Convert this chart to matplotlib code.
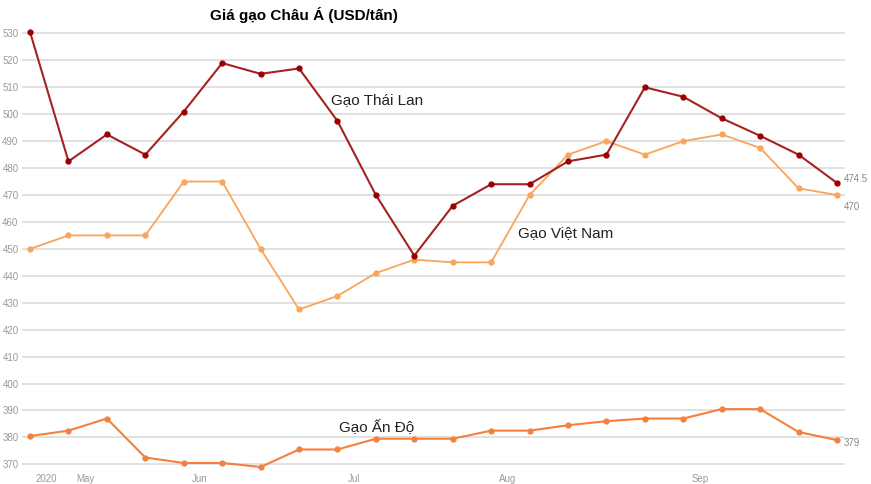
import matplotlib
matplotlib.use("Agg")
import matplotlib.pyplot as plt
import numpy as np

# weekly prices, USD/ton
thai = [530.5, 482.5, 492.5, 485, 501, 519, 515, 517, 497.5, 470, 447.5,
        466, 474, 474, 482.5, 485, 510, 506.5, 498.5, 492, 485, 474.5]
vietnam = [450, 455, 455, 455, 475, 475, 450, 427.5, 432.5, 441, 446,
           445, 445, 470, 485, 490, 485, 490, 492.5, 487.5, 472.5, 470]
india = [380.5, 382.5, 387, 372.5, 370.5, 370.5, 369, 375.5, 375.5, 379.5, 379.5,
         379.5, 382.5, 382.5, 384.5, 386, 387, 387, 390.5, 390.5, 382, 379]

month_pos = [0.42, 1.43, 4.42, 8.43, 12.44, 17.43]
month_labels = ["2020", "May", "Jun", "Jul", "Aug", "Sep"]
yticks = list(range(370, 531, 10))

plt.rcParams['font.family'] = ['Liberation Sans', 'DejaVu Sans']

fig = plt.figure(figsize=(8.71, 4.84), dpi=100)
ax = fig.add_axes([22 / 871, 0.024, (845 - 22) / 871, 0.918])

x = np.arange(len(thai))
ax.plot(x, vietnam, color="#f9a55a", lw=1.3, marker="o", ms=3.5, zorder=3)
ax.plot(x, india, color="#f5803e", lw=1.5, marker="o", ms=3.5, zorder=3)
ax.plot(x, thai, color="#a52222", lw=1.5, marker="o", ms=3.5,
        mfc="#9b0000", mec="#9b0000", zorder=4)

ax.set_xlim(-0.21, 21.21)
ax.set_ylim(367, 532)
ax.set_yticks(yticks)
ax.set_xticks(month_pos)
ax.set_xticklabels(month_labels)
ax.grid(axis="y", color="#dedede", lw=1.3)
ax.set_axisbelow(True)
ax.tick_params(length=0, labelsize=7, labelcolor="#999999")
ax.tick_params(axis="y", pad=2.5)
ax.tick_params(axis="x", pad=1)
for s in ax.spines.values():
    s.set_visible(False)

# series names
ax.text(7.83, 505.2, "Gạo Thái Lan", fontsize=11, color="#222222", va="center")
ax.text(12.7, 455.9, "Gạo Việt Nam", fontsize=11, color="#222222", va="center")
ax.text(8.04, 384.0, "Gạo Ấn Độ", fontsize=11, color="#222222", va="center")

# last values
ax.text(21.18, 476.0, "474.5", fontsize=7, color="#888888", va="center", clip_on=False)
ax.text(21.18, 465.6, "470", fontsize=7, color="#888888", va="center", clip_on=False)
ax.text(21.18, 378.0, "379", fontsize=7, color="#888888", va="center", clip_on=False)

fig.text(304 / 871, 1 - 15 / 484, "Giá gạo Châu Á (USD/tấn)", fontsize=11,
         fontweight="bold", ha="center", va="center")

fig.savefig("out.png", dpi=100)
